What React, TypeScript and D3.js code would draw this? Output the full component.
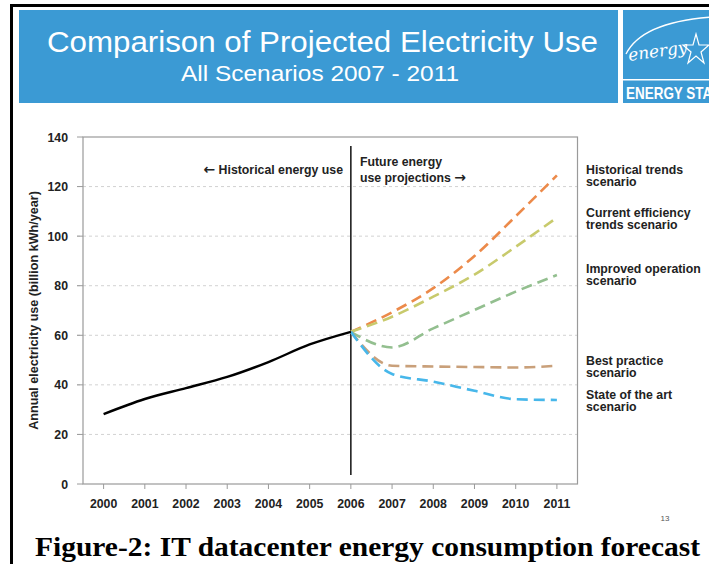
import React from "react";
import * as d3 from "d3";

// Tick labels and series values (billion kWh/year)
const yearTicks = [2000, 2001, 2002, 2003, 2004, 2005, 2006, 2007, 2008, 2009, 2010, 2011];
const valueTicks = [0, 20, 40, 60, 80, 100, 120, 140];

const historicalYears = [2000, 2001, 2002, 2003, 2004, 2005, 2006];
const historicalUse = [28.2, 34.3, 38.7, 43.2, 49.2, 56.3, 61.4];

const projectionYears = [2006, 2007, 2008, 2009, 2010, 2011];
const historicalTrends = [61.4, 69.3, 79.0, 92.0, 108.0, 124.5];
const currentEfficiency = [61.4, 67.5, 75.6, 84.5, 95.7, 107.5];
const improvedOperation = [61.4, 55.1, 62.8, 70.2, 77.6, 84.3];
const bestPractice = [61.4, 47.7, 47.4, 47.2, 47.0, 47.7];
const stateOfTheArt = [61.4, 44.4, 41.3, 37.6, 34.2, 33.9];

const scenarioNames = [
  "Historical trends scenario",
  "Current efficiency trends scenario",
  "Improved operation scenario",
  "Best practice scenario",
  "State of the art scenario",
];
const scenarioLabelLines = [
  ["Historical trends", "scenario"],
  ["Current efficiency", "trends scenario"],
  ["Improved operation", "scenario"],
  ["Best practice", "scenario"],
  ["State of the art", "scenario"],
];
const scenarioLabelY = [169, 212, 268, 360, 394];
const scenarioColors = ["#ec8a4a", "#c8ca6c", "#93bf8f", "#c9a07a", "#47b7ea"];

const W = 709;
const H = 564;
const plot = { left: 83, right: 577.5, top: 137, bottom: 484 };

export default function App() {
  const x = d3.scaleLinear().domain([1999.5, 2011.5]).range([plot.left, plot.right]);
  const y = d3.scaleLinear().domain([0, 140]).range([plot.bottom, plot.top]);

  const line = d3
    .line<[number, number]>()
    .x((d) => x(d[0]))
    .y((d) => y(d[1]))
    .curve(d3.curveMonotoneX);

  const scenarios = [historicalTrends, currentEfficiency, improvedOperation, bestPractice, stateOfTheArt];
  const histPts = historicalYears.map((yr, i) => [yr, historicalUse[i]] as [number, number]);

  const font = "'Liberation Sans', Arial, sans-serif";
  const arrowFont = "'DejaVu Sans', sans-serif";
  const blue = "#3b9ad4";
  const ink = "#222";
  const fs = 12.3;

  return (
    <svg
      width={W}
      height={H}
      viewBox={`0 0 ${W} ${H}`}
      style={{ position: "absolute", left: 0, top: 0, background: "#fff" }}
      fontFamily={font}
    >
      <defs>
        <clipPath id="logoClip">
          <rect x={623} y={10} width={W - 623} height={93} />
        </clipPath>
      </defs>
      <rect x={0} y={0} width={W} height={H} fill="#fff" />

      {/* page frame */}
      <rect x={10} y={4} width={3} height={H - 4} fill="#000" />
      <rect x={10} y={4} width={W - 10} height={3} fill="#000" />

      {/* header band */}
      <rect x={19} y={10} width={599} height={93} fill={blue} />
      <text x={322.5} y={52} textAnchor="middle" fill="#fff" fontSize={30} textLength={551} lengthAdjust="spacingAndGlyphs">
        Comparison of Projected Electricity Use
      </text>
      <text x={320} y={81} textAnchor="middle" fill="#fff" fontSize={22.5} textLength={278} lengthAdjust="spacingAndGlyphs">
        All Scenarios 2007 - 2011
      </text>

      {/* logo */}
      <g clipPath="url(#logoClip)">
        <rect x={623} y={10} width={W - 623} height={93} fill={blue} />
        <path d="M626,54 Q642,22 712,17" fill="none" stroke="#fff" strokeWidth={1.3} />
        <text
          x={629}
          y={61}
          fill="#fff"
          fontSize={17}
          fontStyle="italic"
          fontFamily="'DejaVu Serif', serif"
          transform="rotate(-8 629 61)"
        >
          energy
        </text>
        <path
          d="M696,34 L699,45 L709,45 L701,52 L704,63 L696,56 L688,63 L691,52 L683,45 L693,45 Z"
          fill="none"
          stroke="#fff"
          strokeWidth={1.2}
        />
        <rect x={623} y={79} width={W - 623} height={1.5} fill="#fff" />
        <text x={626} y={99} fill="#fff" fontSize={17} fontWeight="bold" textLength={96} lengthAdjust="spacingAndGlyphs">
          ENERGY STAR
        </text>
      </g>

      {/* grid lines */}
      {valueTicks
        .filter((v) => v > 0 && v < 140)
        .map((v) => (
          <line
            key={`g${v}`}
            x1={plot.left - 6}
            x2={plot.right}
            y1={y(v)}
            y2={y(v)}
            stroke="#d2d2d2"
            strokeWidth={1}
            strokeDasharray="3,3"
          />
        ))}

      {/* plot frame */}
      <rect
        x={plot.left}
        y={plot.top}
        width={plot.right - plot.left}
        height={plot.bottom - plot.top}
        fill="none"
        stroke="#9a9a9a"
        strokeWidth={1.2}
      />

      {/* y axis */}
      {valueTicks.map((v) => (
        <g key={`y${v}`}>
          <line x1={plot.left - 6} x2={plot.left} y1={y(v)} y2={y(v)} stroke="#9a9a9a" />
          <text x={plot.left - 15} y={y(v) + 4.5} textAnchor="end" fontSize={fs} fontWeight="bold" fill={ink}>
            {v}
          </text>
        </g>
      ))}
      <text
        transform={`translate(37.5, ${y(70)}) rotate(-90)`}
        textAnchor="middle"
        fontSize={12.6}
        fontWeight="bold"
        fill={ink}
      >
        Annual electricity use (billion kWh/year)
      </text>

      {/* x axis */}
      {yearTicks.map((yr) => (
        <g key={`x${yr}`}>
          <line x1={x(yr)} x2={x(yr)} y1={plot.bottom} y2={plot.bottom + 5} stroke="#9a9a9a" />
          <text x={x(yr)} y={plot.bottom + 23.5} textAnchor="middle" fontSize={fs} fontWeight="bold" fill={ink}>
            {yr}
          </text>
        </g>
      ))}

      {/* divider between history and projections */}
      <line x1={x(2006)} x2={x(2006)} y1={146} y2={475} stroke="#111" strokeWidth={1.5} />
      <text x={343} y={173.5} textAnchor="end" fontSize={fs} fontWeight="bold" fill={ink}>
        <tspan fontFamily={arrowFont} fontSize={14}>←</tspan> Historical energy use
      </text>
      <text x={360} y={166} fontSize={fs} fontWeight="bold" fill={ink}>
        Future energy
      </text>
      <text x={360} y={181.5} fontSize={fs} fontWeight="bold" fill={ink}>
        use projections <tspan fontFamily={arrowFont} fontSize={14}>→</tspan>
      </text>

      {/* scenario projections */}
      {scenarios.map((vals, i) => (
        <path
          key={scenarioNames[i]}
          d={line(projectionYears.map((yr, j) => [yr, vals[j]] as [number, number])) || ""}
          fill="none"
          stroke={scenarioColors[i]}
          strokeWidth={2.6}
          strokeDasharray="11,6"
        />
      ))}

      {/* historical use */}
      <path d={line(histPts) || ""} fill="none" stroke="#000" strokeWidth={2.4} />

      {/* scenario labels */}
      {scenarioLabelLines.map((lines, i) => (
        <text key={`l${i}`} x={586} y={scenarioLabelY[i] + 4.5} fontSize={fs} fontWeight="bold" fill={ink}>
          {lines.map((t, k) => (
            <tspan key={k} x={586} dy={k === 0 ? 0 : 12.5}>
              {t}
            </tspan>
          ))}
        </text>
      ))}

      {/* slide number */}
      <text x={665} y={521} fontSize={8} fill="#555" textAnchor="middle">
        13
      </text>

      {/* caption */}
      <text
        x={367.5}
        y={556}
        textAnchor="middle"
        fontFamily="'Liberation Serif', 'Times New Roman', serif"
        fontWeight="bold"
        fontSize={28}
        textLength={665}
        lengthAdjust="spacingAndGlyphs"
        fill="#000"
      >
        Figure-2: IT datacenter energy consumption forecast
      </text>
    </svg>
  );
}
